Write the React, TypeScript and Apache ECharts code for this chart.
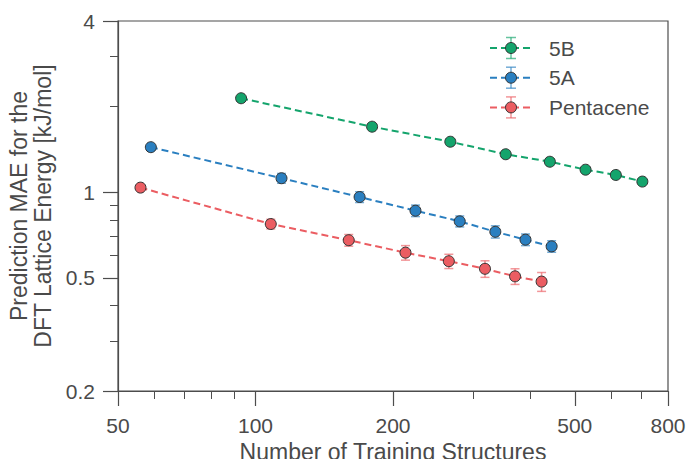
import React, { useEffect, useRef } from 'react';
import * as echarts from 'echarts';

const xTicksMajor = [50, 100, 200, 500, 800];
const xTicksMinor = [60, 70, 80, 90, 300, 400, 600, 700];
const yTicksMajor = [0.2, 0.5, 1, 4];
const yTicksMinor = [0.3, 0.4, 0.6, 0.7, 0.8, 0.9, 2, 3];

const seriesNames = ['5B', '5A', 'Pentacene'];
const seriesColors = ['#14a46c', '#2a7fc0', '#eb5d62'];

const x5B = [93, 180, 267, 353, 441, 528, 615, 703];
const y5B = [2.14, 1.7, 1.505, 1.36, 1.28, 1.2, 1.15, 1.09];
const e5B = [0.036, 0.029, 0.037, 0.034, 0.032, 0.024, 0.023, 0.022];

const x5A = [59, 114, 169, 224, 280, 335, 390, 445];
const y5A = [1.44, 1.12, 0.962, 0.861, 0.79, 0.726, 0.681, 0.645];
const e5A = [0.012, 0.044, 0.042, 0.04, 0.035, 0.036, 0.032, 0.03];

const xPent = [56, 108, 160, 213, 265, 318, 370, 423];
const yPent = [1.038, 0.773, 0.678, 0.613, 0.572, 0.538, 0.506, 0.485];
const ePent = [0.008, 0.03, 0.032, 0.036, 0.033, 0.036, 0.032, 0.037];

const allX = [x5B, x5A, xPent];
const allY = [y5B, y5A, yPent];
const allE = [e5B, e5A, ePent];

const AXIS_COLOR = '#4d4d4d';
const TEXT_COLOR = '#4a4a4a';
const FONT = '"Liberation Sans", Arial, sans-serif';

export default function App() {
  const ref = useRef<HTMLDivElement>(null);
  useEffect(() => {
    if (!ref.current) return;
    const chart = echarts.init(ref.current, null, { renderer: 'svg' });

    const lineSeries: any[] = [];
    const errSeries: any[] = [];
    seriesNames.forEach((name, i) => {
      const color = seriesColors[i];
      errSeries.push({
        type: 'custom',
        name: name + ' error',
        xAxisIndex: 0,
        yAxisIndex: 0,
        z: 2,
        encode: { x: 0, y: [1, 2] },
        data: allX[i].map((x, k) => [x, allY[i][k] - allE[i][k], allY[i][k] + allE[i][k]]),
        renderItem: (params: any, api: any) => {
          const x = api.value(0);
          const p1 = api.coord([x, api.value(1)]);
          const p2 = api.coord([x, api.value(2)]);
          const w = 4.5;
          const style = { stroke: color, lineWidth: 1.5, opacity: 0.65 };
          return {
            type: 'group',
            children: [
              { type: 'line', shape: { x1: p1[0], y1: p1[1], x2: p2[0], y2: p2[1] }, style },
              { type: 'line', shape: { x1: p1[0] - w, y1: p1[1], x2: p1[0] + w, y2: p1[1] }, style },
              { type: 'line', shape: { x1: p2[0] - w, y1: p2[1], x2: p2[0] + w, y2: p2[1] }, style },
            ],
          };
        },
      });
      lineSeries.push({
        type: 'line',
        name,
        xAxisIndex: 0,
        yAxisIndex: 0,
        z: 3,
        data: allX[i].map((x, k) => [x, allY[i][k]]),
        symbol: 'circle',
        symbolSize: 11,
        lineStyle: { color, width: 2, type: [7, 4] },
        itemStyle: { color, borderColor: '#333333', borderWidth: 1 },
      });
    });

    const legendGraphics: any[] = [];
    seriesNames.forEach((name, i) => {
      const cy = 48 + i * 29.7;
      const cx = 511;
      const color = seriesColors[i];
      legendGraphics.push(
        { type: 'line', shape: { x1: 490, y1: cy, x2: 532, y2: cy }, style: { stroke: color, lineWidth: 2, lineDash: [7, 4] } },
        { type: 'line', shape: { x1: cx, y1: cy - 10.5, x2: cx, y2: cy + 10.5 }, style: { stroke: color, lineWidth: 1.5, opacity: 0.65 } },
        { type: 'line', shape: { x1: cx - 5, y1: cy - 10.5, x2: cx + 5, y2: cy - 10.5 }, style: { stroke: color, lineWidth: 1.5, opacity: 0.65 } },
        { type: 'line', shape: { x1: cx - 5, y1: cy + 10.5, x2: cx + 5, y2: cy + 10.5 }, style: { stroke: color, lineWidth: 1.5, opacity: 0.65 } },
        { type: 'circle', shape: { cx, cy, r: 5.5 }, style: { fill: color, stroke: '#333333', lineWidth: 1 } },
        { type: 'text', x: 549, y: cy, style: { text: name, fontSize: 21, fontFamily: FONT, fill: TEXT_COLOR, textVerticalAlign: 'middle', textAlign: 'left' } }
      );
    });

    const logX = { type: 'log', logBase: 10, min: 50, max: 800 };
    const logY = { type: 'log', logBase: 10, min: 0.2, max: 4 };

    chart.setOption({
      animation: false,
      backgroundColor: '#ffffff',
      grid: {
        left: 118, top: 21, width: 550, height: 370,
        show: true, borderColor: AXIS_COLOR, borderWidth: 1.2, backgroundColor: 'transparent',
        containLabel: false, outerBoundsMode: 'none',
      },
      xAxis: [
        {
          ...logX,
          position: 'bottom',
          axisLine: { show: true, lineStyle: { color: AXIS_COLOR, width: 1.2 } },
          axisTick: { show: true, customValues: xTicksMajor, length: 15, lineStyle: { color: AXIS_COLOR, width: 1.2 } },
          axisLabel: { show: true, customValues: xTicksMajor, margin: 24, fontSize: 21, fontFamily: FONT, color: TEXT_COLOR, formatter: (v: number) => String(Math.round(v)) },
          splitLine: { show: false },
          minorTick: { show: false },
          name: 'Number of Training Structures',
          nameLocation: 'middle',
          nameGap: 43,
          nameTextStyle: { fontSize: 23, fontFamily: FONT, color: TEXT_COLOR },
        },
        {
          ...logX,
          position: 'bottom',
          axisLine: { show: false },
          axisTick: { show: true, customValues: xTicksMinor, length: 8, lineStyle: { color: AXIS_COLOR, width: 1 } },
          axisLabel: { show: false },
          splitLine: { show: false },
        },
      ],
      yAxis: [
        {
          ...logY,
          position: 'left',
          axisLine: { show: true, lineStyle: { color: AXIS_COLOR, width: 1.2 } },
          axisTick: { show: true, customValues: yTicksMajor, length: 15, lineStyle: { color: AXIS_COLOR, width: 1.2 } },
          axisLabel: { show: true, customValues: yTicksMajor, margin: 23, fontSize: 21, fontFamily: FONT, color: TEXT_COLOR, formatter: (v: number) => String(Math.round(v * 10) / 10) },
          splitLine: { show: false },
          minorTick: { show: false },
          name: 'Prediction MAE for the\nDFT Lattice Energy [kJ/mol]',
          nameLocation: 'middle',
          nameRotate: 90,
          nameGap: 52,
          nameTextStyle: { fontSize: 23, lineHeight: 24, fontFamily: FONT, color: TEXT_COLOR, align: 'center' },
        },
        {
          ...logY,
          position: 'left',
          axisLine: { show: false },
          axisTick: { show: true, customValues: yTicksMinor, length: 8, lineStyle: { color: AXIS_COLOR, width: 1 } },
          axisLabel: { show: false },
          splitLine: { show: false },
        },
      ],
      series: [...errSeries, ...lineSeries],
      graphic: legendGraphics,
    });

    return () => chart.dispose();
  }, []);

  return <div ref={ref} style={{ position: 'absolute', left: 0, top: 0, width: 687, height: 459 }} />;
}
